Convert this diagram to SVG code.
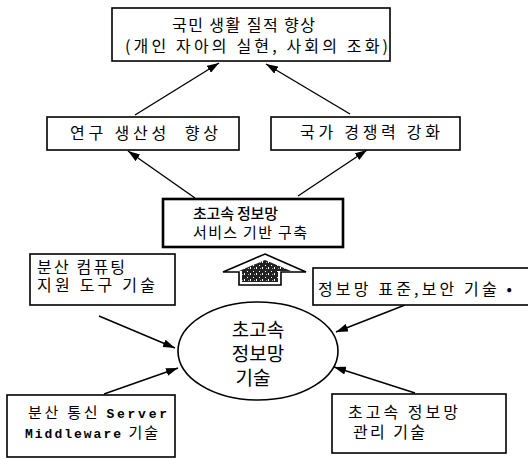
<svg xmlns="http://www.w3.org/2000/svg" width="528" height="459" viewBox="0 0 528 459">
<style>
.box{fill:#fff;stroke:#000;stroke-width:1.6}
.thick{fill:#fff;stroke:#000;stroke-width:2.6}
.t{font-family:"Noto Sans CJK KR","Noto Sans",sans-serif;font-size:16px;fill:#000}
.m{font-family:"Liberation Mono","DejaVu Sans Mono",monospace;font-weight:bold;font-size:13px;fill:#000}
.big{font-family:"Noto Sans CJK KR","Noto Sans",sans-serif;font-size:19px;fill:#000}
.c{fill:none;stroke:#000;stroke-width:1.4;marker-end:url(#ah)}
</style>
<defs>
<marker id="ah" viewBox="0 0 12 8" refX="12" refY="4" markerWidth="12" markerHeight="8" markerUnits="userSpaceOnUse" orient="auto">
<path d="M0,0 L12,4 L0,8 Z" fill="#000"/>
</marker>
<pattern id="noise" width="6" height="6" patternUnits="userSpaceOnUse">
<rect width="6" height="6" fill="#222"/>
<rect x="1" y="1" width="1" height="1" fill="#fff"/>
<rect x="4" y="3" width="1" height="2" fill="#fff"/>
<rect x="2" y="4" width="1" height="1" fill="#aaa"/>
</pattern>
</defs>
<g id="connectors">
<line class="c" x1="135" y1="115" x2="219" y2="63"/>
<line class="c" x1="350" y1="114" x2="266" y2="64"/>
<line class="c" x1="195" y1="198" x2="128" y2="151"/>
<line class="c" x1="298" y1="196" x2="367" y2="150"/>
<line class="c" x1="99" y1="316" x2="175" y2="348"/>
<line class="c" x1="405" y1="305" x2="336" y2="332"/>
<line class="c" x1="104" y1="394" x2="178" y2="368"/>
<line class="c" x1="415" y1="393" x2="334" y2="367"/>
</g>
<g id="n-top">
<rect class="box" x="112" y="8" width="278" height="53"/>
<text class="t" x="172" y="31" textLength="143" lengthAdjust="spacing">국민 생활 질적 향상</text>
<text class="t" x="125" y="52" textLength="263" lengthAdjust="spacing">(개인 자아의 실현, 사회의 조화)</text>
</g>
<g id="n-research">
<rect class="box" x="47" y="117" width="192" height="33"/>
<text class="t" x="70" y="139" textLength="148" lengthAdjust="spacing" xml:space="preserve">연구 생산성  향상</text>
</g>
<g id="n-national">
<rect class="box" x="271" y="117" width="189" height="33"/>
<text class="t" x="300" y="138" textLength="140" lengthAdjust="spacing">국가 경쟁력 강화</text>
</g>
<g id="n-service">
<rect class="thick" x="163" y="199" width="180" height="48"/>
<text class="t" x="193" y="219" style="font-size:15px;font-weight:500" textLength="85" lengthAdjust="spacing">초고속 정보망</text>
<text class="t" x="193" y="238" style="font-size:15px" textLength="114" lengthAdjust="spacing">서비스 기반 구축</text>
</g>
<g id="n-bigarrow">
<polygon points="265,254 306,272 281,272 281,285 239,285 239,272 223,272" fill="#fff" stroke="#000" stroke-width="1.6"/>
<polygon points="265,260 291,271 278,271 278,282 242,282 242,271 239,271" fill="url(#noise)"/>
</g>
<g id="n-distcomp">
<rect class="box" x="30" y="254" width="145" height="51"/>
<text class="t" x="37" y="273" textLength="88" lengthAdjust="spacing">분산 컴퓨팅</text>
<text class="t" x="37" y="291" textLength="118" lengthAdjust="spacing">지원 도구 기술</text>
</g>
<g id="n-standard">
<rect class="box" x="313" y="268" width="220" height="37"/>
<text class="t" x="318" y="295" textLength="194" lengthAdjust="spacing">정보망 표준,보안 기술 •</text>
</g>
<g id="n-core">
<ellipse cx="258" cy="351" rx="80" ry="49" fill="#fff" stroke="#000" stroke-width="1.6"/>
<text class="big" x="258" y="337" text-anchor="middle">초고속</text>
<text class="big" x="258" y="361" text-anchor="middle">정보망</text>
<text class="big" x="253" y="385" text-anchor="middle">기술</text>
</g>
<g id="n-middleware">
<rect class="box" x="7" y="395" width="168" height="62"/>
<text x="28" y="418" textLength="139" lengthAdjust="spacing"><tspan class="t" style="font-size:15px">분산 통신 </tspan><tspan class="m">Server</tspan></text>
<text x="25" y="438" textLength="133" lengthAdjust="spacing"><tspan class="m">Middleware</tspan><tspan class="t" style="font-size:15px"> 기술</tspan></text>
</g>
<g id="n-manage">
<rect class="box" x="332" y="394" width="174" height="59"/>
<text class="t" x="348" y="418" textLength="110" lengthAdjust="spacing">초고속 정보망</text>
<text class="t" x="353" y="438" textLength="72" lengthAdjust="spacing">관리 기술</text>
</g>
</svg>
